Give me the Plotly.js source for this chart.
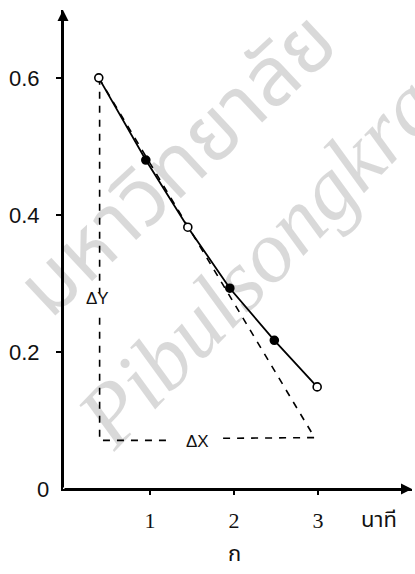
<!DOCTYPE html>
<html>
<head>
<meta charset="utf-8">
<script src="https://cdn.plot.ly/plotly-3.0.1.min.js"></script>
<style>html,body{margin:0;padding:0;background:#fff;}#chart{width:415px;height:574px;}</style>
</head>
<body>
<div id="chart"></div>
<script>
// measured data (minutes, value)
const timeMin = [0.39, 0.95, 1.45, 1.95, 2.48, 2.99];
const values  = [0.60, 0.48, 0.382, 0.293, 0.217, 0.149];
const markerFill = ['white', 'black', 'white', 'black', 'black', 'white'];

// tangent line drawn at the first point
const tangentX = [0.39, 2.96];
const tangentY = [0.60, 0.075];

// right-triangle legs (gaps where the ΔY / ΔX labels sit)
const legX = [0.40, 0.40, null, 0.40, 0.40, 1.26, null, 1.87, 2.96];
const legY = [0.60, 0.285, null, 0.25, 0.071, 0.071, null, 0.074, 0.075];

const yTicks = [0.2, 0.4, 0.6];
const yTickText = ['0.2', '0.4', '0.6'];
const xTicks = [1, 2, 3];
const xTickText = ['1', '2', '3'];

const dash = {color: 'black', width: 1.6, dash: '7px,7px'};

const traces = [
  {x: tangentX, y: tangentY, mode: 'lines', line: dash, hoverinfo: 'skip', showlegend: false},
  {x: legX, y: legY, mode: 'lines', line: dash, hoverinfo: 'skip', showlegend: false, connectgaps: false},
  {x: timeMin, y: values, mode: 'lines+markers', showlegend: false,
   line: {color: 'black', width: 1.8},
   marker: {symbol: 'circle', size: 8, color: markerFill, line: {color: 'black', width: 1.6}}}
];

const thaiFont = '"Noto Sans Thai", "Noto Sans Thai Looped", Loma, Garuda, Norasi, "TH Sarabun New", "Noto Sans", "DejaVu Sans", sans-serif';
const wmColor = 'rgba(0,0,0,0.15)';

const layout = {
  width: 415, height: 574,
  margin: {l: 63, r: 3, t: 10, b: 85},
  paper_bgcolor: 'white', plot_bgcolor: 'white',
  showlegend: false,
  xaxis: {
    range: [-0.036, 4.119], showgrid: false, zeroline: false,
    showline: true, linecolor: 'black', linewidth: 2,
    ticks: 'outside', ticklen: 4, tickwidth: 1.5, tickcolor: 'black',
    tickvals: xTicks, ticktext: xTickText, ticklabelstandoff: 7,
    tickfont: {family: '"Liberation Serif", "Times New Roman", serif', size: 22, color: '#111'}
  },
  yaxis: {
    range: [0, 0.699], showgrid: false, zeroline: false,
    showline: true, linecolor: 'black', linewidth: 2,
    ticks: 'outside', ticklen: 5, tickwidth: 1.5, tickcolor: 'black',
    tickvals: yTicks, ticktext: yTickText, ticklabelstandoff: 12,
    tickfont: {family: '"Liberation Sans", Arial, sans-serif', size: 22, color: '#111'}
  },
  annotations: [
    // watermark
    {xref: 'paper', yref: 'paper', x: 0.332, y: 0.675, xanchor: 'center', yanchor: 'middle', text: 'มหาวิทยาลัย', showarrow: false,
     textangle: -43, font: {family: thaiFont, size: 82, color: wmColor}},
    {xref: 'paper', yref: 'paper', x: 0.619, y: 0.524, xanchor: 'center', yanchor: 'middle', text: 'Pibulsongkram', showarrow: false,
     textangle: -46, font: {family: '"Liberation Serif", serif', size: 88, color: wmColor, style: 'italic'}},
    // axis arrows
    {xref: 'paper', yref: 'paper', x: 0, y: 1, ax: 0, ay: 479, axref: 'pixel', ayref: 'pixel',
     text: '', showarrow: true, arrowhead: 2, arrowsize: 1.1, arrowwidth: 2, arrowcolor: 'black'},
    {xref: 'paper', yref: 'paper', x: 1, y: 0, ax: -349, ay: 0, axref: 'pixel', ayref: 'pixel',
     text: '', showarrow: true, arrowhead: 2, arrowsize: 1.1, arrowwidth: 2, arrowcolor: 'black'},
    // origin label
    {xref: 'paper', yref: 'paper', x: -0.057, y: -0.002, text: '0', showarrow: false, xanchor: 'center', yanchor: 'middle',
     font: {family: '"Liberation Sans", Arial, sans-serif', size: 22, color: '#111'}},
    // triangle labels
    {xref: 'x', yref: 'y', x: 0.38, y: 0.278, text: 'ΔY', showarrow: false, xanchor: 'center', yanchor: 'middle',
     font: {family: '"Liberation Sans", Arial, sans-serif', size: 17, color: '#111'}},
    {xref: 'x', yref: 'y', x: 1.57, y: 0.070, text: 'ΔX', showarrow: false, xanchor: 'center', yanchor: 'middle',
     font: {family: '"Liberation Sans", Arial, sans-serif', size: 17, color: '#111'}},
    // axis unit and panel label
    {xref: 'paper', yref: 'paper', x: 0.905, y: -0.0668, text: 'นาที', showarrow: false, xanchor: 'center', yanchor: 'middle',
     font: {family: thaiFont, size: 22, color: '#111'}},
    {xref: 'paper', yref: 'paper', x: 0.49, y: -0.137, text: 'ก', showarrow: false, xanchor: 'center', yanchor: 'middle',
     font: {family: thaiFont, size: 22, color: '#111'}}
  ]
};

Plotly.newPlot('chart', traces, layout, {staticPlot: true, displayModeBar: false});
</script>
</body>
</html>
